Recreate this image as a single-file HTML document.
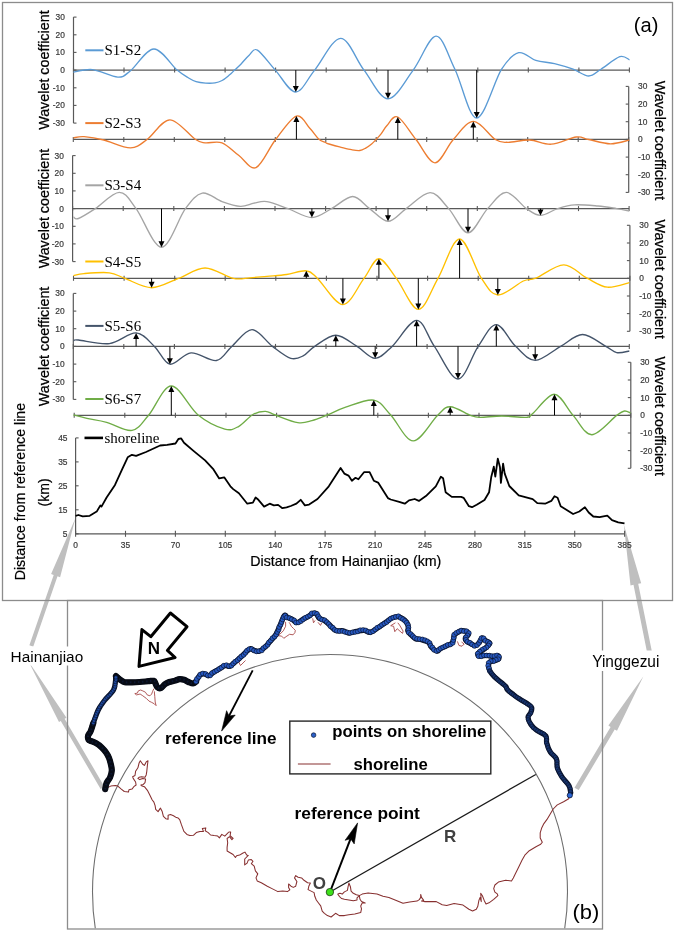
<!DOCTYPE html>
<html><head><meta charset="utf-8"><title>Figure</title>
<style>html,body{margin:0;padding:0;background:#fff;} svg{display:block;}</style>
</head><body>
<svg width="675" height="932" viewBox="0 0 675 932">
<rect x="0" y="0" width="675" height="932" fill="#fff"/>
<path d="M33.2,646.7 L57.5,576.3 L60.1,577.2 L75.5,518 L51.1,574.1 L53.7,575 L29.4,645.3 Z" fill="#BFBFBF"/>
<path d="M104.4,786.7 L64.6,718.7 L66.5,717.7 L28.6,661.5 L59,722 L60.8,721 L100.6,788.9 Z" fill="#BFBFBF"/>
<path d="M651.9,651.5 L638.2,583.8 L641.2,583.2 L623.8,524.5 L630.5,585.4 L633.5,584.8 L647.1,652.5 Z" fill="#BFBFBF"/>
<path d="M578.7,790.1 L614.7,729.4 L617,730.7 L643.3,676.6 L608.4,725.6 L610.6,727 L574.5,787.7 Z" fill="#BFBFBF"/>
<rect x="2.5" y="2.5" width="670" height="598" fill="none" stroke="#8c8c8c" stroke-width="1.3"/>
<rect x="67.5" y="600.5" width="535" height="328.5" fill="none" stroke="#8c8c8c" stroke-width="1.3"/>
<line x1="73.5" y1="17.1" x2="73.5" y2="123.1" stroke="#595959" stroke-width="1.2"/>
<line x1="73.5" y1="123.1" x2="76.5" y2="123.1" stroke="#595959" stroke-width="1.1"/>
<text x="64.8" y="126" font-family="'Liberation Sans', Arial, sans-serif" font-size="8.4" fill="#3a3a3a" stroke="#3a3a3a" stroke-width="0.2" text-anchor="end">-30</text>
<line x1="73.5" y1="105.4" x2="76.5" y2="105.4" stroke="#595959" stroke-width="1.1"/>
<text x="64.8" y="108.3" font-family="'Liberation Sans', Arial, sans-serif" font-size="8.4" fill="#3a3a3a" stroke="#3a3a3a" stroke-width="0.2" text-anchor="end">-20</text>
<line x1="73.5" y1="87.8" x2="76.5" y2="87.8" stroke="#595959" stroke-width="1.1"/>
<text x="64.8" y="90.7" font-family="'Liberation Sans', Arial, sans-serif" font-size="8.4" fill="#3a3a3a" stroke="#3a3a3a" stroke-width="0.2" text-anchor="end">-10</text>
<line x1="73.5" y1="70.1" x2="76.5" y2="70.1" stroke="#595959" stroke-width="1.1"/>
<text x="64.8" y="73" font-family="'Liberation Sans', Arial, sans-serif" font-size="8.4" fill="#3a3a3a" stroke="#3a3a3a" stroke-width="0.2" text-anchor="end">0</text>
<line x1="73.5" y1="52.4" x2="76.5" y2="52.4" stroke="#595959" stroke-width="1.1"/>
<text x="64.8" y="55.3" font-family="'Liberation Sans', Arial, sans-serif" font-size="8.4" fill="#3a3a3a" stroke="#3a3a3a" stroke-width="0.2" text-anchor="end">10</text>
<line x1="73.5" y1="34.8" x2="76.5" y2="34.8" stroke="#595959" stroke-width="1.1"/>
<text x="64.8" y="37.7" font-family="'Liberation Sans', Arial, sans-serif" font-size="8.4" fill="#3a3a3a" stroke="#3a3a3a" stroke-width="0.2" text-anchor="end">20</text>
<line x1="73.5" y1="17.1" x2="76.5" y2="17.1" stroke="#595959" stroke-width="1.1"/>
<text x="64.8" y="20" font-family="'Liberation Sans', Arial, sans-serif" font-size="8.4" fill="#3a3a3a" stroke="#3a3a3a" stroke-width="0.2" text-anchor="end">30</text>
<line x1="73.5" y1="70.1" x2="629.4" y2="70.1" stroke="#595959" stroke-width="1.2"/>
<line x1="73.5" y1="67.6" x2="73.5" y2="72.6" stroke="#595959" stroke-width="1.1"/>
<line x1="124" y1="67.6" x2="124" y2="72.6" stroke="#595959" stroke-width="1.1"/>
<line x1="174.6" y1="67.6" x2="174.6" y2="72.6" stroke="#595959" stroke-width="1.1"/>
<line x1="225.1" y1="67.6" x2="225.1" y2="72.6" stroke="#595959" stroke-width="1.1"/>
<line x1="275.6" y1="67.6" x2="275.6" y2="72.6" stroke="#595959" stroke-width="1.1"/>
<line x1="326.2" y1="67.6" x2="326.2" y2="72.6" stroke="#595959" stroke-width="1.1"/>
<line x1="376.7" y1="67.6" x2="376.7" y2="72.6" stroke="#595959" stroke-width="1.1"/>
<line x1="427.3" y1="67.6" x2="427.3" y2="72.6" stroke="#595959" stroke-width="1.1"/>
<line x1="477.8" y1="67.6" x2="477.8" y2="72.6" stroke="#595959" stroke-width="1.1"/>
<line x1="528.3" y1="67.6" x2="528.3" y2="72.6" stroke="#595959" stroke-width="1.1"/>
<line x1="578.9" y1="67.6" x2="578.9" y2="72.6" stroke="#595959" stroke-width="1.1"/>
<line x1="629.4" y1="67.6" x2="629.4" y2="72.6" stroke="#595959" stroke-width="1.1"/>
<text transform="translate(49.2,70.1) rotate(-90)" font-family="'Liberation Sans', Arial, sans-serif" font-size="15" text-anchor="middle" fill="#000" stroke="#000" stroke-width="0.25" textLength="119.5" lengthAdjust="spacingAndGlyphs">Wavelet coefficient</text>
<line x1="628.7" y1="86.4" x2="628.7" y2="192.4" stroke="#595959" stroke-width="1.2"/>
<line x1="625.7" y1="192.4" x2="628.7" y2="192.4" stroke="#595959" stroke-width="1.1"/>
<text x="638.1" y="195.3" font-family="'Liberation Sans', Arial, sans-serif" font-size="8.4" fill="#3a3a3a" stroke="#3a3a3a" stroke-width="0.2">-30</text>
<line x1="625.7" y1="174.7" x2="628.7" y2="174.7" stroke="#595959" stroke-width="1.1"/>
<text x="638.1" y="177.6" font-family="'Liberation Sans', Arial, sans-serif" font-size="8.4" fill="#3a3a3a" stroke="#3a3a3a" stroke-width="0.2">-20</text>
<line x1="625.7" y1="157.1" x2="628.7" y2="157.1" stroke="#595959" stroke-width="1.1"/>
<text x="638.1" y="160" font-family="'Liberation Sans', Arial, sans-serif" font-size="8.4" fill="#3a3a3a" stroke="#3a3a3a" stroke-width="0.2">-10</text>
<line x1="625.7" y1="139.4" x2="628.7" y2="139.4" stroke="#595959" stroke-width="1.1"/>
<text x="638.1" y="142.3" font-family="'Liberation Sans', Arial, sans-serif" font-size="8.4" fill="#3a3a3a" stroke="#3a3a3a" stroke-width="0.2">0</text>
<line x1="625.7" y1="121.7" x2="628.7" y2="121.7" stroke="#595959" stroke-width="1.1"/>
<text x="638.1" y="124.6" font-family="'Liberation Sans', Arial, sans-serif" font-size="8.4" fill="#3a3a3a" stroke="#3a3a3a" stroke-width="0.2">10</text>
<line x1="625.7" y1="104.1" x2="628.7" y2="104.1" stroke="#595959" stroke-width="1.1"/>
<text x="638.1" y="107" font-family="'Liberation Sans', Arial, sans-serif" font-size="8.4" fill="#3a3a3a" stroke="#3a3a3a" stroke-width="0.2">20</text>
<line x1="625.7" y1="86.4" x2="628.7" y2="86.4" stroke="#595959" stroke-width="1.1"/>
<text x="638.1" y="89.3" font-family="'Liberation Sans', Arial, sans-serif" font-size="8.4" fill="#3a3a3a" stroke="#3a3a3a" stroke-width="0.2">30</text>
<line x1="73.3" y1="139.4" x2="628.7" y2="139.4" stroke="#595959" stroke-width="1.2"/>
<line x1="73.3" y1="136.9" x2="73.3" y2="141.9" stroke="#595959" stroke-width="1.1"/>
<line x1="123.8" y1="136.9" x2="123.8" y2="141.9" stroke="#595959" stroke-width="1.1"/>
<line x1="174.3" y1="136.9" x2="174.3" y2="141.9" stroke="#595959" stroke-width="1.1"/>
<line x1="224.8" y1="136.9" x2="224.8" y2="141.9" stroke="#595959" stroke-width="1.1"/>
<line x1="275.3" y1="136.9" x2="275.3" y2="141.9" stroke="#595959" stroke-width="1.1"/>
<line x1="325.8" y1="136.9" x2="325.8" y2="141.9" stroke="#595959" stroke-width="1.1"/>
<line x1="376.2" y1="136.9" x2="376.2" y2="141.9" stroke="#595959" stroke-width="1.1"/>
<line x1="426.7" y1="136.9" x2="426.7" y2="141.9" stroke="#595959" stroke-width="1.1"/>
<line x1="477.2" y1="136.9" x2="477.2" y2="141.9" stroke="#595959" stroke-width="1.1"/>
<line x1="527.7" y1="136.9" x2="527.7" y2="141.9" stroke="#595959" stroke-width="1.1"/>
<line x1="578.2" y1="136.9" x2="578.2" y2="141.9" stroke="#595959" stroke-width="1.1"/>
<line x1="628.7" y1="136.9" x2="628.7" y2="141.9" stroke="#595959" stroke-width="1.1"/>
<text transform="translate(655,140.4) rotate(90)" font-family="'Liberation Sans', Arial, sans-serif" font-size="15" text-anchor="middle" fill="#000" stroke="#000" stroke-width="0.25" textLength="119.5" lengthAdjust="spacingAndGlyphs">Wavelet coefficient</text>
<line x1="72.6" y1="155.6" x2="72.6" y2="261.6" stroke="#595959" stroke-width="1.2"/>
<line x1="72.6" y1="261.6" x2="75.6" y2="261.6" stroke="#595959" stroke-width="1.1"/>
<text x="63.9" y="264.5" font-family="'Liberation Sans', Arial, sans-serif" font-size="8.4" fill="#3a3a3a" stroke="#3a3a3a" stroke-width="0.2" text-anchor="end">-30</text>
<line x1="72.6" y1="243.9" x2="75.6" y2="243.9" stroke="#595959" stroke-width="1.1"/>
<text x="63.9" y="246.8" font-family="'Liberation Sans', Arial, sans-serif" font-size="8.4" fill="#3a3a3a" stroke="#3a3a3a" stroke-width="0.2" text-anchor="end">-20</text>
<line x1="72.6" y1="226.3" x2="75.6" y2="226.3" stroke="#595959" stroke-width="1.1"/>
<text x="63.9" y="229.2" font-family="'Liberation Sans', Arial, sans-serif" font-size="8.4" fill="#3a3a3a" stroke="#3a3a3a" stroke-width="0.2" text-anchor="end">-10</text>
<line x1="72.6" y1="208.6" x2="75.6" y2="208.6" stroke="#595959" stroke-width="1.1"/>
<text x="63.9" y="211.5" font-family="'Liberation Sans', Arial, sans-serif" font-size="8.4" fill="#3a3a3a" stroke="#3a3a3a" stroke-width="0.2" text-anchor="end">0</text>
<line x1="72.6" y1="190.9" x2="75.6" y2="190.9" stroke="#595959" stroke-width="1.1"/>
<text x="63.9" y="193.8" font-family="'Liberation Sans', Arial, sans-serif" font-size="8.4" fill="#3a3a3a" stroke="#3a3a3a" stroke-width="0.2" text-anchor="end">10</text>
<line x1="72.6" y1="173.3" x2="75.6" y2="173.3" stroke="#595959" stroke-width="1.1"/>
<text x="63.9" y="176.2" font-family="'Liberation Sans', Arial, sans-serif" font-size="8.4" fill="#3a3a3a" stroke="#3a3a3a" stroke-width="0.2" text-anchor="end">20</text>
<line x1="72.6" y1="155.6" x2="75.6" y2="155.6" stroke="#595959" stroke-width="1.1"/>
<text x="63.9" y="158.5" font-family="'Liberation Sans', Arial, sans-serif" font-size="8.4" fill="#3a3a3a" stroke="#3a3a3a" stroke-width="0.2" text-anchor="end">30</text>
<line x1="72.6" y1="208.6" x2="629.1" y2="208.6" stroke="#595959" stroke-width="1.2"/>
<line x1="72.6" y1="206.1" x2="72.6" y2="211.1" stroke="#595959" stroke-width="1.1"/>
<line x1="123.2" y1="206.1" x2="123.2" y2="211.1" stroke="#595959" stroke-width="1.1"/>
<line x1="173.8" y1="206.1" x2="173.8" y2="211.1" stroke="#595959" stroke-width="1.1"/>
<line x1="224.4" y1="206.1" x2="224.4" y2="211.1" stroke="#595959" stroke-width="1.1"/>
<line x1="275" y1="206.1" x2="275" y2="211.1" stroke="#595959" stroke-width="1.1"/>
<line x1="325.6" y1="206.1" x2="325.6" y2="211.1" stroke="#595959" stroke-width="1.1"/>
<line x1="376.1" y1="206.1" x2="376.1" y2="211.1" stroke="#595959" stroke-width="1.1"/>
<line x1="426.7" y1="206.1" x2="426.7" y2="211.1" stroke="#595959" stroke-width="1.1"/>
<line x1="477.3" y1="206.1" x2="477.3" y2="211.1" stroke="#595959" stroke-width="1.1"/>
<line x1="527.9" y1="206.1" x2="527.9" y2="211.1" stroke="#595959" stroke-width="1.1"/>
<line x1="578.5" y1="206.1" x2="578.5" y2="211.1" stroke="#595959" stroke-width="1.1"/>
<line x1="629.1" y1="206.1" x2="629.1" y2="211.1" stroke="#595959" stroke-width="1.1"/>
<text transform="translate(49.2,208.6) rotate(-90)" font-family="'Liberation Sans', Arial, sans-serif" font-size="15" text-anchor="middle" fill="#000" stroke="#000" stroke-width="0.25" textLength="119.5" lengthAdjust="spacingAndGlyphs">Wavelet coefficient</text>
<line x1="629.9" y1="225.3" x2="629.9" y2="331.3" stroke="#595959" stroke-width="1.2"/>
<line x1="626.9" y1="331.3" x2="629.9" y2="331.3" stroke="#595959" stroke-width="1.1"/>
<text x="639.3" y="334.2" font-family="'Liberation Sans', Arial, sans-serif" font-size="8.4" fill="#3a3a3a" stroke="#3a3a3a" stroke-width="0.2">-30</text>
<line x1="626.9" y1="313.6" x2="629.9" y2="313.6" stroke="#595959" stroke-width="1.1"/>
<text x="639.3" y="316.5" font-family="'Liberation Sans', Arial, sans-serif" font-size="8.4" fill="#3a3a3a" stroke="#3a3a3a" stroke-width="0.2">-20</text>
<line x1="626.9" y1="296" x2="629.9" y2="296" stroke="#595959" stroke-width="1.1"/>
<text x="639.3" y="298.9" font-family="'Liberation Sans', Arial, sans-serif" font-size="8.4" fill="#3a3a3a" stroke="#3a3a3a" stroke-width="0.2">-10</text>
<line x1="626.9" y1="278.3" x2="629.9" y2="278.3" stroke="#595959" stroke-width="1.1"/>
<text x="639.3" y="281.2" font-family="'Liberation Sans', Arial, sans-serif" font-size="8.4" fill="#3a3a3a" stroke="#3a3a3a" stroke-width="0.2">0</text>
<line x1="626.9" y1="260.6" x2="629.9" y2="260.6" stroke="#595959" stroke-width="1.1"/>
<text x="639.3" y="263.5" font-family="'Liberation Sans', Arial, sans-serif" font-size="8.4" fill="#3a3a3a" stroke="#3a3a3a" stroke-width="0.2">10</text>
<line x1="626.9" y1="243" x2="629.9" y2="243" stroke="#595959" stroke-width="1.1"/>
<text x="639.3" y="245.9" font-family="'Liberation Sans', Arial, sans-serif" font-size="8.4" fill="#3a3a3a" stroke="#3a3a3a" stroke-width="0.2">20</text>
<line x1="626.9" y1="225.3" x2="629.9" y2="225.3" stroke="#595959" stroke-width="1.1"/>
<text x="639.3" y="228.2" font-family="'Liberation Sans', Arial, sans-serif" font-size="8.4" fill="#3a3a3a" stroke="#3a3a3a" stroke-width="0.2">30</text>
<line x1="73.5" y1="278.3" x2="629.9" y2="278.3" stroke="#595959" stroke-width="1.2"/>
<line x1="73.5" y1="275.8" x2="73.5" y2="280.8" stroke="#595959" stroke-width="1.1"/>
<line x1="124.1" y1="275.8" x2="124.1" y2="280.8" stroke="#595959" stroke-width="1.1"/>
<line x1="174.7" y1="275.8" x2="174.7" y2="280.8" stroke="#595959" stroke-width="1.1"/>
<line x1="225.2" y1="275.8" x2="225.2" y2="280.8" stroke="#595959" stroke-width="1.1"/>
<line x1="275.8" y1="275.8" x2="275.8" y2="280.8" stroke="#595959" stroke-width="1.1"/>
<line x1="326.4" y1="275.8" x2="326.4" y2="280.8" stroke="#595959" stroke-width="1.1"/>
<line x1="377" y1="275.8" x2="377" y2="280.8" stroke="#595959" stroke-width="1.1"/>
<line x1="427.6" y1="275.8" x2="427.6" y2="280.8" stroke="#595959" stroke-width="1.1"/>
<line x1="478.2" y1="275.8" x2="478.2" y2="280.8" stroke="#595959" stroke-width="1.1"/>
<line x1="528.7" y1="275.8" x2="528.7" y2="280.8" stroke="#595959" stroke-width="1.1"/>
<line x1="579.3" y1="275.8" x2="579.3" y2="280.8" stroke="#595959" stroke-width="1.1"/>
<line x1="629.9" y1="275.8" x2="629.9" y2="280.8" stroke="#595959" stroke-width="1.1"/>
<text transform="translate(655,279.3) rotate(90)" font-family="'Liberation Sans', Arial, sans-serif" font-size="15" text-anchor="middle" fill="#000" stroke="#000" stroke-width="0.25" textLength="119.5" lengthAdjust="spacingAndGlyphs">Wavelet coefficient</text>
<line x1="73.3" y1="293.4" x2="73.3" y2="399.4" stroke="#595959" stroke-width="1.2"/>
<line x1="73.3" y1="399.4" x2="76.3" y2="399.4" stroke="#595959" stroke-width="1.1"/>
<text x="64.6" y="402.3" font-family="'Liberation Sans', Arial, sans-serif" font-size="8.4" fill="#3a3a3a" stroke="#3a3a3a" stroke-width="0.2" text-anchor="end">-30</text>
<line x1="73.3" y1="381.7" x2="76.3" y2="381.7" stroke="#595959" stroke-width="1.1"/>
<text x="64.6" y="384.6" font-family="'Liberation Sans', Arial, sans-serif" font-size="8.4" fill="#3a3a3a" stroke="#3a3a3a" stroke-width="0.2" text-anchor="end">-20</text>
<line x1="73.3" y1="364.1" x2="76.3" y2="364.1" stroke="#595959" stroke-width="1.1"/>
<text x="64.6" y="367" font-family="'Liberation Sans', Arial, sans-serif" font-size="8.4" fill="#3a3a3a" stroke="#3a3a3a" stroke-width="0.2" text-anchor="end">-10</text>
<line x1="73.3" y1="346.4" x2="76.3" y2="346.4" stroke="#595959" stroke-width="1.1"/>
<text x="64.6" y="349.3" font-family="'Liberation Sans', Arial, sans-serif" font-size="8.4" fill="#3a3a3a" stroke="#3a3a3a" stroke-width="0.2" text-anchor="end">0</text>
<line x1="73.3" y1="328.7" x2="76.3" y2="328.7" stroke="#595959" stroke-width="1.1"/>
<text x="64.6" y="331.6" font-family="'Liberation Sans', Arial, sans-serif" font-size="8.4" fill="#3a3a3a" stroke="#3a3a3a" stroke-width="0.2" text-anchor="end">10</text>
<line x1="73.3" y1="311.1" x2="76.3" y2="311.1" stroke="#595959" stroke-width="1.1"/>
<text x="64.6" y="314" font-family="'Liberation Sans', Arial, sans-serif" font-size="8.4" fill="#3a3a3a" stroke="#3a3a3a" stroke-width="0.2" text-anchor="end">20</text>
<line x1="73.3" y1="293.4" x2="76.3" y2="293.4" stroke="#595959" stroke-width="1.1"/>
<text x="64.6" y="296.3" font-family="'Liberation Sans', Arial, sans-serif" font-size="8.4" fill="#3a3a3a" stroke="#3a3a3a" stroke-width="0.2" text-anchor="end">30</text>
<line x1="73.3" y1="346.4" x2="629.3" y2="346.4" stroke="#595959" stroke-width="1.2"/>
<line x1="73.3" y1="343.9" x2="73.3" y2="348.9" stroke="#595959" stroke-width="1.1"/>
<line x1="123.8" y1="343.9" x2="123.8" y2="348.9" stroke="#595959" stroke-width="1.1"/>
<line x1="174.4" y1="343.9" x2="174.4" y2="348.9" stroke="#595959" stroke-width="1.1"/>
<line x1="224.9" y1="343.9" x2="224.9" y2="348.9" stroke="#595959" stroke-width="1.1"/>
<line x1="275.5" y1="343.9" x2="275.5" y2="348.9" stroke="#595959" stroke-width="1.1"/>
<line x1="326" y1="343.9" x2="326" y2="348.9" stroke="#595959" stroke-width="1.1"/>
<line x1="376.6" y1="343.9" x2="376.6" y2="348.9" stroke="#595959" stroke-width="1.1"/>
<line x1="427.1" y1="343.9" x2="427.1" y2="348.9" stroke="#595959" stroke-width="1.1"/>
<line x1="477.7" y1="343.9" x2="477.7" y2="348.9" stroke="#595959" stroke-width="1.1"/>
<line x1="528.2" y1="343.9" x2="528.2" y2="348.9" stroke="#595959" stroke-width="1.1"/>
<line x1="578.8" y1="343.9" x2="578.8" y2="348.9" stroke="#595959" stroke-width="1.1"/>
<line x1="629.3" y1="343.9" x2="629.3" y2="348.9" stroke="#595959" stroke-width="1.1"/>
<text transform="translate(49.2,346.4) rotate(-90)" font-family="'Liberation Sans', Arial, sans-serif" font-size="15" text-anchor="middle" fill="#000" stroke="#000" stroke-width="0.25" textLength="119.5" lengthAdjust="spacingAndGlyphs">Wavelet coefficient</text>
<line x1="630.8" y1="362.3" x2="630.8" y2="468.3" stroke="#595959" stroke-width="1.2"/>
<line x1="627.8" y1="468.3" x2="630.8" y2="468.3" stroke="#595959" stroke-width="1.1"/>
<text x="640.2" y="471.2" font-family="'Liberation Sans', Arial, sans-serif" font-size="8.4" fill="#3a3a3a" stroke="#3a3a3a" stroke-width="0.2">-30</text>
<line x1="627.8" y1="450.6" x2="630.8" y2="450.6" stroke="#595959" stroke-width="1.1"/>
<text x="640.2" y="453.5" font-family="'Liberation Sans', Arial, sans-serif" font-size="8.4" fill="#3a3a3a" stroke="#3a3a3a" stroke-width="0.2">-20</text>
<line x1="627.8" y1="433" x2="630.8" y2="433" stroke="#595959" stroke-width="1.1"/>
<text x="640.2" y="435.9" font-family="'Liberation Sans', Arial, sans-serif" font-size="8.4" fill="#3a3a3a" stroke="#3a3a3a" stroke-width="0.2">-10</text>
<line x1="627.8" y1="415.3" x2="630.8" y2="415.3" stroke="#595959" stroke-width="1.1"/>
<text x="640.2" y="418.2" font-family="'Liberation Sans', Arial, sans-serif" font-size="8.4" fill="#3a3a3a" stroke="#3a3a3a" stroke-width="0.2">0</text>
<line x1="627.8" y1="397.6" x2="630.8" y2="397.6" stroke="#595959" stroke-width="1.1"/>
<text x="640.2" y="400.5" font-family="'Liberation Sans', Arial, sans-serif" font-size="8.4" fill="#3a3a3a" stroke="#3a3a3a" stroke-width="0.2">10</text>
<line x1="627.8" y1="380" x2="630.8" y2="380" stroke="#595959" stroke-width="1.1"/>
<text x="640.2" y="382.9" font-family="'Liberation Sans', Arial, sans-serif" font-size="8.4" fill="#3a3a3a" stroke="#3a3a3a" stroke-width="0.2">20</text>
<line x1="627.8" y1="362.3" x2="630.8" y2="362.3" stroke="#595959" stroke-width="1.1"/>
<text x="640.2" y="365.2" font-family="'Liberation Sans', Arial, sans-serif" font-size="8.4" fill="#3a3a3a" stroke="#3a3a3a" stroke-width="0.2">30</text>
<line x1="74.2" y1="415.3" x2="630.8" y2="415.3" stroke="#595959" stroke-width="1.2"/>
<line x1="74.2" y1="412.8" x2="74.2" y2="417.8" stroke="#595959" stroke-width="1.1"/>
<line x1="124.8" y1="412.8" x2="124.8" y2="417.8" stroke="#595959" stroke-width="1.1"/>
<line x1="175.4" y1="412.8" x2="175.4" y2="417.8" stroke="#595959" stroke-width="1.1"/>
<line x1="226" y1="412.8" x2="226" y2="417.8" stroke="#595959" stroke-width="1.1"/>
<line x1="276.6" y1="412.8" x2="276.6" y2="417.8" stroke="#595959" stroke-width="1.1"/>
<line x1="327.2" y1="412.8" x2="327.2" y2="417.8" stroke="#595959" stroke-width="1.1"/>
<line x1="377.8" y1="412.8" x2="377.8" y2="417.8" stroke="#595959" stroke-width="1.1"/>
<line x1="428.4" y1="412.8" x2="428.4" y2="417.8" stroke="#595959" stroke-width="1.1"/>
<line x1="479" y1="412.8" x2="479" y2="417.8" stroke="#595959" stroke-width="1.1"/>
<line x1="529.6" y1="412.8" x2="529.6" y2="417.8" stroke="#595959" stroke-width="1.1"/>
<line x1="580.2" y1="412.8" x2="580.2" y2="417.8" stroke="#595959" stroke-width="1.1"/>
<line x1="630.8" y1="412.8" x2="630.8" y2="417.8" stroke="#595959" stroke-width="1.1"/>
<text transform="translate(655,416.3) rotate(90)" font-family="'Liberation Sans', Arial, sans-serif" font-size="15" text-anchor="middle" fill="#000" stroke="#000" stroke-width="0.25" textLength="119.5" lengthAdjust="spacingAndGlyphs">Wavelet coefficient</text>
<path d="M73.4,72.1 C76.6,71.7 85.1,68.8 92.5,69.6 C99.9,70.4 111.5,76.9 117.8,77.1 C124.1,77.3 124.5,75.4 130.5,70.7 C136.5,66 146.1,49.1 153.9,49 C161.7,48.9 171.4,65.3 177.1,70.1 C182.8,74.8 184.6,75.6 187.8,77.5 C191,79.4 193.1,80.8 196.1,81.7 C199.1,82.6 202.4,82.9 205.6,83.1 C208.8,83.3 212.2,83.3 215,82.9 C217.8,82.5 219.7,81.8 222.1,80.5 C224.5,79.2 227.2,76.8 229.3,75.1 C231.4,73.4 232.6,72 234.6,70.1 C236.6,68.2 238.6,66.4 241.1,63.9 C243.6,61.4 246.7,57.3 249.4,55 C252.1,52.7 253.1,47.6 257.4,50.1 C261.7,52.6 268.9,63.1 275.3,70.1 C281.7,77.1 289.1,92 295.7,92 C302.3,92 307.2,79 314.7,70.1 C322.2,61.1 332.4,38.3 340.6,38.3 C348.8,38.3 356.1,60 364,70.1 C371.9,80.2 379.8,98.8 388,98.8 C396.2,98.8 405.2,80.5 413.2,70.1 C421.2,59.7 429.1,36.4 436,36.2 C442.9,36.1 448.1,55.6 454.9,69.2 C461.7,82.8 468.9,118 476.7,118 C484.5,118 494.6,80.1 501.6,69.2 C508.6,58.3 513,54.2 518.7,52.7 C524.4,51.2 529.8,58.6 535.8,60.4 C541.8,62.2 548.3,62.1 554.5,63.6 C560.7,65.1 567.4,67.1 573.1,69.2 C578.8,71.3 584.1,76 588.7,76 C593.4,76 595.8,72.4 601,69.2 C606.2,66 615,58.3 619.8,56.7 C624.5,55.1 627.9,59.3 629.5,59.8" fill="none" stroke="#5B9BD5" stroke-width="1.35" stroke-linejoin="round"/>
<line x1="85.3" y1="50.3" x2="103.5" y2="50.3" stroke="#5B9BD5" stroke-width="2"/>
<text x="104.5" y="55.4" font-family="'Liberation Serif', 'Times New Roman', serif" font-size="15" fill="#000">S1-S2</text>
<line x1="295.8" y1="70.1" x2="295.8" y2="87" stroke="#000" stroke-width="1"/>
<path d="M292.8,86 L298.8,86 L295.8,92 Z" fill="#000"/>
<line x1="388" y1="70.1" x2="388" y2="93.8" stroke="#000" stroke-width="1"/>
<path d="M385,92.8 L391,92.8 L388,98.8 Z" fill="#000"/>
<line x1="476.7" y1="70.1" x2="476.7" y2="113" stroke="#000" stroke-width="1"/>
<path d="M473.7,112 L479.7,112 L476.7,118 Z" fill="#000"/>
<path d="M73.5,137.8 C75.3,137.6 79,136.3 84.1,136.7 C89.1,137.1 96.1,138.1 103.8,140 C111.5,141.9 123.2,148 130.5,147.9 C137.8,147.8 140.8,143.9 147.4,139.2 C154,134.5 161.9,119.8 169.9,119.8 C177.9,119.8 189.3,135.4 195.2,139.2 C201.1,143 200.6,142.2 205.1,142.8 C209.6,143.4 216.4,140.7 222,142.8 C227.6,144.9 233.2,151.4 238.9,155.5 C244.6,159.6 249.9,170.2 256,167.6 C262.1,165 268.6,148.6 275.3,140 C282,131.4 290.6,118 296.4,116.1 C302.2,114.2 306.2,124.8 310,128.6 C313.8,132.4 316.3,136.9 318.9,139.2 C321.5,141.5 323.7,141.7 325.4,142.5 C327.1,143.3 326.6,143.3 329,144 C331.4,144.7 335.9,146 339.6,146.9 C343.4,147.8 348.1,149.1 351.5,149.7 C354.9,150.3 357.4,150.8 359.8,150.5 C362.2,150.2 363.7,149.2 365.7,148.1 C367.7,147 369.9,145.4 371.6,144 C373.3,142.6 374.2,141.5 375.8,139.8 C377.4,138.1 379.2,136.3 381.1,133.9 C383,131.5 384.2,128.4 387,125.6 C389.8,122.8 393,114.7 397.8,117 C402.6,119.3 409.8,131.9 416,139.5 C422.2,147.1 428.8,162.8 435,162.8 C441.2,162.8 446.9,146.4 453.3,139.5 C459.7,132.6 466.6,121.4 473.6,121.4 C480.6,121.4 489.6,136 495.3,139.5 C501,143 502.1,142.2 507.8,142.3 C513.5,142.4 522.4,139.7 529.6,140 C536.9,140.3 543.5,144.7 551.3,144.2 C559.1,143.7 570,137.8 576.2,137 C582.4,136.2 583,138.4 588.7,139.5 C594.4,140.6 603.7,143.7 610.5,143.8 C617.3,143.9 626.2,140.7 629.3,140.1" fill="none" stroke="#ED7D31" stroke-width="1.35" stroke-linejoin="round"/>
<line x1="85.3" y1="123.1" x2="103.5" y2="123.1" stroke="#ED7D31" stroke-width="2"/>
<text x="104.5" y="128.2" font-family="'Liberation Serif', 'Times New Roman', serif" font-size="15" fill="#000">S2-S3</text>
<line x1="296.4" y1="139.4" x2="296.4" y2="121.1" stroke="#000" stroke-width="1"/>
<path d="M293.4,122.1 L299.4,122.1 L296.4,116.1 Z" fill="#000"/>
<line x1="397.8" y1="139.4" x2="397.8" y2="122" stroke="#000" stroke-width="1"/>
<path d="M394.8,123 L400.8,123 L397.8,117 Z" fill="#000"/>
<line x1="473.3" y1="139.4" x2="473.3" y2="126.4" stroke="#000" stroke-width="1"/>
<path d="M470.3,127.4 L476.3,127.4 L473.3,121.4 Z" fill="#000"/>
<path d="M73.5,217 C74.3,217.2 74.8,219.9 78.4,218.5 C82,217.1 88.5,213 95.3,208.6 C102.1,204.2 112.5,192.3 119.3,192.3 C126.1,192.3 129.1,199.4 136.1,208.6 C143.1,217.8 153.3,247.2 161.5,247.2 C169.7,247.2 178.6,217.6 185.4,208.6 C192.2,199.6 196.2,194.3 202.3,193.1 C208.4,191.9 215.7,199.4 222,201.6 C228.3,203.8 235,206.1 240.3,206.4 C245.6,206.7 249.6,204 254,203.2 C258.4,202.4 261.2,200.7 266.9,201.6 C272.6,202.5 280.5,205.9 288,208.6 C295.5,211.3 304.6,217.6 311.9,217.6 C319.2,217.6 324.8,212.1 331.6,208.6 C338.4,205.1 346.4,196.5 352.7,196.5 C359,196.5 363.7,204.5 369.6,208.6 C375.5,212.7 381.9,221.3 388,221.3 C394.1,221.3 399.2,213.4 406.2,208.6 C413.2,203.8 423,192.6 430.1,192.6 C437.2,192.6 442.4,201.9 448.7,208.6 C455,215.3 461.5,232.8 468,232.8 C474.5,232.8 481.2,215.3 487.6,208.6 C494,201.9 499.7,192.4 506.2,192.4 C512.7,192.4 520.8,204.8 526.5,208.6 C532.2,212.4 535.3,215.4 540.5,215.4 C545.7,215.4 551.9,210.4 557.6,208.6 C563.3,206.8 568,205.2 574.7,204.8 C581.4,204.4 591,205.4 598,206 C605,206.6 611.5,207.8 616.7,208.6 C621.9,209.4 627.2,210.6 629.3,211" fill="none" stroke="#A5A5A5" stroke-width="1.35" stroke-linejoin="round"/>
<line x1="85.3" y1="185.3" x2="103.5" y2="185.3" stroke="#A5A5A5" stroke-width="2"/>
<text x="104.5" y="190.4" font-family="'Liberation Serif', 'Times New Roman', serif" font-size="15" fill="#000">S3-S4</text>
<line x1="161.5" y1="208.6" x2="161.5" y2="242.2" stroke="#000" stroke-width="1"/>
<path d="M158.5,241.2 L164.5,241.2 L161.5,247.2 Z" fill="#000"/>
<line x1="311.9" y1="208.6" x2="311.9" y2="212.6" stroke="#000" stroke-width="1"/>
<path d="M308.9,211.6 L314.9,211.6 L311.9,217.6 Z" fill="#000"/>
<line x1="388" y1="208.6" x2="388" y2="216.3" stroke="#000" stroke-width="1"/>
<path d="M385,215.3 L391,215.3 L388,221.3 Z" fill="#000"/>
<line x1="468" y1="208.6" x2="468" y2="227.8" stroke="#000" stroke-width="1"/>
<path d="M465,226.8 L471,226.8 L468,232.8 Z" fill="#000"/>
<line x1="540.5" y1="208.6" x2="540.5" y2="210.4" stroke="#000" stroke-width="1"/>
<path d="M537.5,209.4 L543.5,209.4 L540.5,215.4 Z" fill="#000"/>
<path d="M73.5,275.6 C75.3,275.3 78.1,274.1 84.1,273.6 C90.1,273.1 102.6,272 109.4,272.8 C116.2,273.6 117.9,275.9 124.9,278.4 C131.9,280.9 142.7,287.7 151.6,287.7 C160.5,287.7 169.5,281.7 178.4,278.4 C187.3,275.1 196,268 205.1,268 C214.2,268 225.7,276.8 233.2,278.4 C240.7,280 244.4,278.1 250,277.8 C255.6,277.5 260.8,276.9 266.9,276.4 C273,275.8 280,275.4 286.6,274.5 C293.2,273.6 301.2,270.2 306.3,270.8 C311.4,271.4 311.4,272.8 317.5,278.4 C323.6,284 335.1,304.6 342.9,304.6 C350.6,304.6 358,286 364,278.4 C370,270.8 373.5,258.7 378.9,258.7 C384.3,258.7 389.8,269.9 396.4,278.4 C403,286.8 411.4,309.4 418.3,309.4 C425.2,309.4 431.1,290 438,278.3 C444.9,266.6 452.4,239 459.6,239 C466.8,239 474.9,268.9 481.3,278.2 C487.7,287.5 490.8,294.5 497.8,295 C504.8,295.5 517,283.8 523.3,281 C529.6,278.2 529,280.9 535.8,278.2 C542.5,275.5 555.2,264.8 563.8,264.8 C572.3,264.8 579.9,274.5 587.1,278.2 C594.4,281.9 600.3,286.5 607.3,287.2 C614.3,287.9 625.6,283.4 629.3,282.6" fill="none" stroke="#FFC000" stroke-width="1.35" stroke-linejoin="round"/>
<line x1="85.3" y1="261.5" x2="103.5" y2="261.5" stroke="#FFC000" stroke-width="2"/>
<text x="104.5" y="266.6" font-family="'Liberation Serif', 'Times New Roman', serif" font-size="15" fill="#000">S4-S5</text>
<line x1="151.6" y1="278.3" x2="151.6" y2="282.7" stroke="#000" stroke-width="1"/>
<path d="M148.6,281.7 L154.6,281.7 L151.6,287.7 Z" fill="#000"/>
<line x1="306.3" y1="278.3" x2="306.3" y2="275.8" stroke="#000" stroke-width="1"/>
<path d="M303.3,276.8 L309.3,276.8 L306.3,270.8 Z" fill="#000"/>
<line x1="342.9" y1="278.3" x2="342.9" y2="299.6" stroke="#000" stroke-width="1"/>
<path d="M339.9,298.6 L345.9,298.6 L342.9,304.6 Z" fill="#000"/>
<line x1="378.9" y1="278.3" x2="378.9" y2="263.7" stroke="#000" stroke-width="1"/>
<path d="M375.9,264.7 L381.9,264.7 L378.9,258.7 Z" fill="#000"/>
<line x1="418.3" y1="278.3" x2="418.3" y2="304.4" stroke="#000" stroke-width="1"/>
<path d="M415.3,303.4 L421.3,303.4 L418.3,309.4 Z" fill="#000"/>
<line x1="459.6" y1="278.3" x2="459.6" y2="244" stroke="#000" stroke-width="1"/>
<path d="M456.6,245 L462.6,245 L459.6,239 Z" fill="#000"/>
<line x1="497.8" y1="278.3" x2="497.8" y2="290" stroke="#000" stroke-width="1"/>
<path d="M494.8,289 L500.8,289 L497.8,295 Z" fill="#000"/>
<path d="M73.5,340.8 C74.3,340.7 72.4,339.5 78.4,340 C84.4,340.5 99.8,344.8 109.4,343.6 C119,342.4 128.6,332.4 136.1,332.9 C143.6,333.4 148.8,341.2 154.4,346.4 C160,351.6 163.8,363.1 169.9,364.2 C176,365.3 183.2,353.5 191,352.9 C198.8,352.3 209.6,361.6 216.4,360.5 C223.2,359.4 225.9,351.5 231.8,346.4 C237.7,341.2 245.2,329.6 252,329.6 C258.8,329.6 266,341.6 272.5,346.4 C279,351.2 285.6,356.8 290.8,358.3 C296,359.9 299.5,357.7 303.5,355.7 C307.5,353.7 309.3,349.8 314.7,346.4 C320.1,343 328.8,335.2 335.8,335.2 C342.9,335.2 350.4,342.5 357,346.4 C363.6,350.2 369.3,358.3 375.2,358.3 C381.1,358.3 385.2,352.7 392.1,346.4 C399,340.1 409.6,320.3 416.6,320.3 C423.7,320.3 427.5,336.6 434.4,346.4 C441.3,356.2 450.7,379 458,379 C465.3,379 471.8,355.4 478.2,346.3 C484.6,337.2 490.1,324.6 496.3,324.6 C502.5,324.6 509.1,340.4 515.6,346.3 C522.1,352.2 527.7,360.3 535.2,360.3 C542.7,360.3 552.8,350.6 560.7,346.3 C568.6,342 575,334.5 582.5,334.5 C590,334.5 600.1,343.3 605.8,346.3 C611.5,349.3 612.8,351.8 616.7,352.6 C620.6,353.4 627.2,351.3 629.3,351" fill="none" stroke="#44546A" stroke-width="1.35" stroke-linejoin="round"/>
<line x1="85.3" y1="325.9" x2="103.5" y2="325.9" stroke="#44546A" stroke-width="2"/>
<text x="104.5" y="331" font-family="'Liberation Serif', 'Times New Roman', serif" font-size="15" fill="#000">S5-S6</text>
<line x1="136.1" y1="346.4" x2="136.1" y2="337.9" stroke="#000" stroke-width="1"/>
<path d="M133.1,338.9 L139.1,338.9 L136.1,332.9 Z" fill="#000"/>
<line x1="169.9" y1="346.4" x2="169.9" y2="359.2" stroke="#000" stroke-width="1"/>
<path d="M166.9,358.2 L172.9,358.2 L169.9,364.2 Z" fill="#000"/>
<line x1="335.8" y1="346.4" x2="335.8" y2="340.2" stroke="#000" stroke-width="1"/>
<path d="M332.8,341.2 L338.8,341.2 L335.8,335.2 Z" fill="#000"/>
<line x1="375.2" y1="346.4" x2="375.2" y2="353.3" stroke="#000" stroke-width="1"/>
<path d="M372.2,352.3 L378.2,352.3 L375.2,358.3 Z" fill="#000"/>
<line x1="416.6" y1="346.4" x2="416.6" y2="325.3" stroke="#000" stroke-width="1"/>
<path d="M413.6,326.3 L419.6,326.3 L416.6,320.3 Z" fill="#000"/>
<line x1="458" y1="346.4" x2="458" y2="374" stroke="#000" stroke-width="1"/>
<path d="M455,373 L461,373 L458,379 Z" fill="#000"/>
<line x1="496.3" y1="346.4" x2="496.3" y2="329.6" stroke="#000" stroke-width="1"/>
<path d="M493.3,330.6 L499.3,330.6 L496.3,324.6 Z" fill="#000"/>
<line x1="535.2" y1="346.4" x2="535.2" y2="355.3" stroke="#000" stroke-width="1"/>
<path d="M532.2,354.3 L538.2,354.3 L535.2,360.3 Z" fill="#000"/>
<path d="M73.5,415 C75.7,415.6 81.4,417.2 86.9,418.4 C92.4,419.6 99.1,420.3 106.6,422.3 C114.1,424.3 125,431.6 132,430.4 C139,429.2 142.2,422.4 148.8,415 C155.4,407.6 163.1,386 171.3,386 C179.5,386 189.2,407.8 198.1,415 C207,422.2 218,427.2 224.8,429.1 C231.6,431 234.2,428.7 238.9,426.3 C243.6,423.9 248.5,417 252.9,414.5 C257.3,412 261.8,411.3 265.5,411.4 C269.2,411.5 269.9,413.1 275.3,415 C280.7,416.9 291.7,421.7 297.8,422.6 C303.9,423.6 307,422 311.9,420.7 C316.8,419.4 321.8,417.2 327.4,415 C333,412.8 338,409.7 345.7,407.2 C353.4,404.7 366.3,398.8 373.8,400.1 C381.3,401.4 384.1,408.2 390.7,415 C397.3,421.8 405.4,440.8 413.2,440.9 C421,441 431.3,421.1 437.5,415.4 C443.7,409.7 444.7,406.7 450.2,406.7 C455.7,406.7 465.5,413.6 470.4,415.4 C475.3,417.2 474.6,417.2 479.8,417.3 C485,417.4 493.8,416 501.6,416 C509.4,416 521.3,417.7 526.5,417.3 C531.7,416.9 528,417.4 532.7,413.6 C537.4,409.8 547.8,394 554.5,394.3 C561.2,394.6 566.9,408.7 573.1,415.4 C579.3,422.1 584.5,434.7 591.8,434.7 C599.1,434.7 611.2,419.3 616.7,415.4 C622.2,411.4 622.2,411.4 624.5,411 C626.8,410.6 629.5,412.7 630.5,413" fill="none" stroke="#70AD47" stroke-width="1.35" stroke-linejoin="round"/>
<line x1="85.3" y1="399" x2="103.5" y2="399" stroke="#70AD47" stroke-width="2"/>
<text x="104.5" y="404.1" font-family="'Liberation Serif', 'Times New Roman', serif" font-size="15" fill="#000">S6-S7</text>
<line x1="171.3" y1="415.3" x2="171.3" y2="391" stroke="#000" stroke-width="1"/>
<path d="M168.3,392 L174.3,392 L171.3,386 Z" fill="#000"/>
<line x1="373.8" y1="415.3" x2="373.8" y2="405.1" stroke="#000" stroke-width="1"/>
<path d="M370.8,406.1 L376.8,406.1 L373.8,400.1 Z" fill="#000"/>
<line x1="450.2" y1="415.3" x2="450.2" y2="411.7" stroke="#000" stroke-width="1"/>
<path d="M447.2,412.7 L453.2,412.7 L450.2,406.7 Z" fill="#000"/>
<line x1="554.5" y1="415.3" x2="554.5" y2="399.3" stroke="#000" stroke-width="1"/>
<path d="M551.5,400.3 L557.5,400.3 L554.5,394.3 Z" fill="#000"/>
<line x1="75.6" y1="437.9" x2="75.6" y2="533.8" stroke="#595959" stroke-width="1.2"/>
<line x1="75.6" y1="533.8" x2="624.6" y2="533.8" stroke="#595959" stroke-width="1.2"/>
<line x1="75.6" y1="533.8" x2="78.6" y2="533.8" stroke="#595959" stroke-width="1.1"/>
<text x="67.5" y="536.8" font-family="'Liberation Sans', Arial, sans-serif" font-size="8.4" fill="#3a3a3a" stroke="#3a3a3a" stroke-width="0.2" text-anchor="end">5</text>
<line x1="75.6" y1="509.8" x2="78.6" y2="509.8" stroke="#595959" stroke-width="1.1"/>
<text x="67.5" y="512.8" font-family="'Liberation Sans', Arial, sans-serif" font-size="8.4" fill="#3a3a3a" stroke="#3a3a3a" stroke-width="0.2" text-anchor="end">15</text>
<line x1="75.6" y1="485.8" x2="78.6" y2="485.8" stroke="#595959" stroke-width="1.1"/>
<text x="67.5" y="488.8" font-family="'Liberation Sans', Arial, sans-serif" font-size="8.4" fill="#3a3a3a" stroke="#3a3a3a" stroke-width="0.2" text-anchor="end">25</text>
<line x1="75.6" y1="461.9" x2="78.6" y2="461.9" stroke="#595959" stroke-width="1.1"/>
<text x="67.5" y="464.9" font-family="'Liberation Sans', Arial, sans-serif" font-size="8.4" fill="#3a3a3a" stroke="#3a3a3a" stroke-width="0.2" text-anchor="end">35</text>
<line x1="75.6" y1="437.9" x2="78.6" y2="437.9" stroke="#595959" stroke-width="1.1"/>
<text x="67.5" y="440.9" font-family="'Liberation Sans', Arial, sans-serif" font-size="8.4" fill="#3a3a3a" stroke="#3a3a3a" stroke-width="0.2" text-anchor="end">45</text>
<line x1="75.6" y1="530.8" x2="75.6" y2="536.8" stroke="#595959" stroke-width="1.1"/>
<text x="75.6" y="548.2" font-family="'Liberation Sans', Arial, sans-serif" font-size="8.4" fill="#3a3a3a" stroke="#3a3a3a" stroke-width="0.2" text-anchor="middle">0</text>
<line x1="125.5" y1="530.8" x2="125.5" y2="536.8" stroke="#595959" stroke-width="1.1"/>
<text x="125.5" y="548.2" font-family="'Liberation Sans', Arial, sans-serif" font-size="8.4" fill="#3a3a3a" stroke="#3a3a3a" stroke-width="0.2" text-anchor="middle">35</text>
<line x1="175.4" y1="530.8" x2="175.4" y2="536.8" stroke="#595959" stroke-width="1.1"/>
<text x="175.4" y="548.2" font-family="'Liberation Sans', Arial, sans-serif" font-size="8.4" fill="#3a3a3a" stroke="#3a3a3a" stroke-width="0.2" text-anchor="middle">70</text>
<line x1="225.3" y1="530.8" x2="225.3" y2="536.8" stroke="#595959" stroke-width="1.1"/>
<text x="225.3" y="548.2" font-family="'Liberation Sans', Arial, sans-serif" font-size="8.4" fill="#3a3a3a" stroke="#3a3a3a" stroke-width="0.2" text-anchor="middle">105</text>
<line x1="275.2" y1="530.8" x2="275.2" y2="536.8" stroke="#595959" stroke-width="1.1"/>
<text x="275.2" y="548.2" font-family="'Liberation Sans', Arial, sans-serif" font-size="8.4" fill="#3a3a3a" stroke="#3a3a3a" stroke-width="0.2" text-anchor="middle">140</text>
<line x1="325.1" y1="530.8" x2="325.1" y2="536.8" stroke="#595959" stroke-width="1.1"/>
<text x="325.1" y="548.2" font-family="'Liberation Sans', Arial, sans-serif" font-size="8.4" fill="#3a3a3a" stroke="#3a3a3a" stroke-width="0.2" text-anchor="middle">175</text>
<line x1="375.1" y1="530.8" x2="375.1" y2="536.8" stroke="#595959" stroke-width="1.1"/>
<text x="375.1" y="548.2" font-family="'Liberation Sans', Arial, sans-serif" font-size="8.4" fill="#3a3a3a" stroke="#3a3a3a" stroke-width="0.2" text-anchor="middle">210</text>
<line x1="425" y1="530.8" x2="425" y2="536.8" stroke="#595959" stroke-width="1.1"/>
<text x="425" y="548.2" font-family="'Liberation Sans', Arial, sans-serif" font-size="8.4" fill="#3a3a3a" stroke="#3a3a3a" stroke-width="0.2" text-anchor="middle">245</text>
<line x1="474.9" y1="530.8" x2="474.9" y2="536.8" stroke="#595959" stroke-width="1.1"/>
<text x="474.9" y="548.2" font-family="'Liberation Sans', Arial, sans-serif" font-size="8.4" fill="#3a3a3a" stroke="#3a3a3a" stroke-width="0.2" text-anchor="middle">280</text>
<line x1="524.8" y1="530.8" x2="524.8" y2="536.8" stroke="#595959" stroke-width="1.1"/>
<text x="524.8" y="548.2" font-family="'Liberation Sans', Arial, sans-serif" font-size="8.4" fill="#3a3a3a" stroke="#3a3a3a" stroke-width="0.2" text-anchor="middle">315</text>
<line x1="574.7" y1="530.8" x2="574.7" y2="536.8" stroke="#595959" stroke-width="1.1"/>
<text x="574.7" y="548.2" font-family="'Liberation Sans', Arial, sans-serif" font-size="8.4" fill="#3a3a3a" stroke="#3a3a3a" stroke-width="0.2" text-anchor="middle">350</text>
<line x1="624.6" y1="530.8" x2="624.6" y2="536.8" stroke="#595959" stroke-width="1.1"/>
<text x="624.6" y="548.2" font-family="'Liberation Sans', Arial, sans-serif" font-size="8.4" fill="#3a3a3a" stroke="#3a3a3a" stroke-width="0.2" text-anchor="middle">385</text>
<path d="M75.6,515.8 L78.4,515 L82.7,516.4 L89.7,515.8 L96.7,511.6 L100.4,505.4 L101.5,506.6 L106.6,497.5 L115,484.9 L122.1,469.4 L127.7,457.3 L131.9,454.8 L136.1,455.9 L146,452 L160.1,445.5 L167.1,444.9 L175.5,443.5 L178.4,439 L181.2,438.4 L184,442.7 L193.8,451.1 L205.1,460.4 L213.5,469.4 L219.2,478.4 L224.2,477.3 L230.4,486.3 L233.2,489.1 L238.9,493.3 L247.3,503.7 L252.9,502.6 L255.6,497.5 L258.4,499.8 L264.1,506.6 L269.7,503.7 L273.9,505.4 L278.1,504.9 L282.4,508.2 L286.6,507.4 L290.8,506 L296.4,503.7 L300.7,499.8 L304.9,505.4 L309.1,504.6 L317.5,499 L328.8,486.3 L340.6,468 L344.3,473.6 L348.5,475.6 L351.9,480.7 L355.5,477.8 L358.4,479.3 L364,472.2 L369.6,472.2 L373.8,480.7 L378.1,482.6 L387.9,498.1 L390.7,499.5 L399.2,501.8 L404.8,503.7 L409,500.4 L414.7,499 L418.9,500.9 L425.9,496.1 L435.8,486.3 L440.9,476.7 L443.1,478.2 L445.6,492.2 L451.8,496.9 L461.1,496.9 L463.6,497.8 L468.9,506.2 L472,507.2 L476.7,504.7 L484.5,500 L489.1,492.2 L491.3,476.7 L493.8,466.7 L495.3,476.7 L497.8,458.6 L500,467.3 L500.9,482.9 L503.1,463.6 L504.7,473.6 L509.3,486 L518.7,495.3 L532.7,499.1 L537.3,503.1 L545.1,503.7 L551.3,500.9 L554.5,496.3 L557.6,497.8 L560.7,506.2 L573.1,514 L579.3,511.5 L584.9,507.2 L588.7,512.5 L593.3,516.5 L599.6,517.1 L607.3,515.6 L612,520.2 L618.2,522.4 L624.5,523.3" fill="none" stroke="#000" stroke-width="1.8" stroke-linejoin="round"/>
<line x1="84.5" y1="437.9" x2="103" y2="437.9" stroke="#000" stroke-width="2.6"/>
<text x="104.5" y="442.5" font-family="'Liberation Serif', 'Times New Roman', serif" font-size="15" fill="#000">shoreline</text>
<text transform="translate(24.8,491.6) rotate(-90)" font-family="'Liberation Sans', Arial, sans-serif" font-size="14.2" text-anchor="middle" fill="#000" stroke="#000" stroke-width="0.2">Distance from reference line</text>
<text transform="translate(49.2,492.4) rotate(-90)" font-family="'Liberation Sans', Arial, sans-serif" font-size="14" text-anchor="middle" fill="#000" stroke="#000" stroke-width="0.2">(km)</text>
<text x="250.3" y="566" font-family="'Liberation Sans', Arial, sans-serif" font-size="14.2" fill="#000" stroke="#000" stroke-width="0.2" textLength="191" lengthAdjust="spacingAndGlyphs">Distance from Hainanjiao (km)</text>
<text x="633.8" y="32.4" font-family="'Liberation Sans', Arial, sans-serif" font-size="20.5" fill="#000" textLength="24.6" lengthAdjust="spacingAndGlyphs">(a)</text>
<defs><clipPath id="pc"><rect x="68.2" y="601.2" width="533.6" height="327.1"/></clipPath></defs>
<g clip-path="url(#pc)">
<circle cx="330" cy="892" r="237.5" fill="none" stroke="#6e6e6e" stroke-width="1.1"/>
</g>
<path d="M107.1,787.9 L110.7,786.1 L115.4,785.6 L117.8,786.1 L121.3,789.1 L124.3,791.5 L128.4,792.1 L129,789.7 L132,789.1 L133.8,786.7 L136.1,785 L135.6,782 L133.2,778.4 L132.6,776.7 L135,775.5 L135.6,771.3 L137.9,767.8 L139.1,763 L140.3,760.7 L142.7,764.2 L144.4,765.4 L146.2,761.9 L148,760.7 L147.4,765.4 L146.8,771.3 L146.2,774.9 L145,777.3 L141.5,776.7 L139.1,777.3 L137.9,778.4 L139.7,779.6 L142.7,778.4 L145.6,779 L145,782.6 L143.3,784.4 L140.9,785 L142.1,786.1 L144.4,786.7 L147.4,790.3 L149.8,795 L152.1,799.8 L153.9,802.1 L155.1,805.7 L155.7,809.3 L158.1,811.6 L160.4,808.1 L162.2,811.6 L163.4,816.4 L165.8,818.7 L168.1,819.3 L168.1,815.2 L170.5,814.6 L173.5,815.8 L176.4,817.6 L178.2,818.1 L179.7,819.6 L181.5,824.9 L183.9,831.4 L186.9,834.4 L189.8,835.6 L193.4,835.3 L196.3,832.6 L199.9,831.4 L203.4,831.4 L202.3,828.4 L205.8,827.9 L205.2,830.8 L208.2,832.6 L210.6,835 L214.1,835.6 L217.7,836.1 L219.4,837.9 L221.8,834.4 L224.8,836.1 L227.7,833.2 L228.9,832 L230.7,832 L230.1,835.6 L233.1,838.5 L231.9,839.7 L229.5,836.7 L227.1,838.5 L227.7,842.7 L227.1,847.4 L227.1,851 L230.1,852.7 L233.1,854.5 L235.4,857.5 L236.6,855.7 L239.6,855.1 L242.6,853.3 L244.9,852.1 L246.7,855.1 L248.3,855.4 L244.7,859 L244.7,864.9 L247.1,863.1 L248.3,860.1 L251.3,859.6 L253,861.3 L251.3,863.7 L254.2,866.1 L255.4,870.8 L257.8,873.8 L256,877.9 L257.2,880.9 L261.3,882.7 L267.3,886.2 L272,888.6 L277.9,891.6 L282.7,891 L287.4,891.6 L289.8,889.8 L288.6,887.4 L288.6,883.9 L291,886.2 L293.3,887.4 L295.7,886.2 L296.9,881.5 L294.5,877.9 L295.7,875.6 L298.1,877.3 L301.6,877.9 L304,880.3 L307.6,882.7 L310.4,883 L308.9,885.9 L308.1,889.6 L311.1,891.1 L314.1,892.6 L314.8,896.3 L316.3,900 L318.5,903 L320.7,905.9 L322.2,911.1 L324.4,913.3 L327.4,915.6 L331.1,917 L335.6,913.3 L339.3,915.6 L344.4,915.6 L348.9,914.8 L354.8,914.1 L360.7,912.6 L361.5,908.9 L360.7,905.9 L362.2,903 L365.2,903 L361.5,901.5 L360,899.3 L359.3,895.6 L357,897.8 L357,900 L353.3,900.7 L348.9,900 L344.4,899.3 L341.5,898.5 L339.3,896.3 L337.8,894.1 L340,893.3 L342.2,894.1 L344.4,891.9 L347.4,890.4 L348.1,886.7 L348.9,883 L350.4,886.7 L351.1,891.1 L353.3,893.3 L356.3,894.8 L359.3,895.6 L362.2,894.1 L368.1,892.9 L377,894.1 L383,896.3 L388.9,897.4 L396.3,900.4 L403,903.3 L409.6,901.9 L417,901.1 L419.3,899.6 L420.7,897.4 L420.7,894.4 L421.5,897.4 L423.7,900.4 L421.5,901.1 L424.4,901.6 L436.3,901.6 L442.2,904.8 L446.7,905.6 L454.1,903.6 L463,905.1 L468.9,909.3 L472.6,911 L476.3,909.3 L477.8,906.3 L478.9,900.4 L480.1,897.5 L481.3,901.6 L480.7,893.3 L482.4,895.7 L484.2,900.4 L486,904 L489,902.8 L493.7,899.3 L497.9,895.7 L497.3,893.9 L494.9,892.1 L493.7,888.6 L494.9,885 L498.4,882.1 L505.6,880.3 L511.5,880.9 L513.3,877.9 L515,874.4 L518.6,867.3 L522.1,860.1 L525.1,854.8 L529.3,850.7 L536.4,846.5 L540.7,844.3 L542.3,842.2 L540.2,838.1 L540.2,832.9 L541.8,827.7 L543.9,823.6 L547,819.4 L550.1,814.2 L553.2,809 L557.3,804.9 L563.6,801.8 L568.7,798.7 L569.8,795.3" fill="none" stroke="#873030" stroke-width="1.05" stroke-linejoin="round"/>
<path d="M153.9,688.7 L152.6,691.3 L151.7,694 L149.9,695.8 L147.2,694.9 L145.4,692.2 L142.8,690.9 L140.6,690 L138.3,690.9 L137.4,693.1 L134.8,693.6 L136.6,694.9 L140.1,694 L142.8,695.8 L146.3,698.4 L149,701.1 L151.7,702.4 L154.3,703.8 L156.1,705.6 L155.2,702 L154.8,696.7 L154.3,691.3" fill="none" stroke="#a84a4a" stroke-width="0.9" stroke-linejoin="round"/>
<path d="M285.6,621.9 L285.6,626.3 L283.3,630.8 L279.8,634.3 L278,635.7 L281.6,636.1 L283.8,638.3 L286.9,636.1 L289.6,634.3 L293.1,634.8 L294.9,632.6 L295.3,630.3 L293.6,628.6 L291.3,626.3 L290,623.7 L289.1,622.3" fill="none" stroke="#a84a4a" stroke-width="0.9" stroke-linejoin="round"/>
<path d="M395.4,622.8 L390.7,625.7 L393.6,626.3 L394.8,631.7 L397.2,628.7 L402.5,633.4 L403.1,631.1 L399.6,625.1 L397.8,622.8" fill="none" stroke="#a84a4a" stroke-width="0.9" stroke-linejoin="round"/>
<path d="M241,659 L239,662.5 L240.5,665.5 L243,663 L245.5,660.5" fill="none" stroke="#a84a4a" stroke-width="0.9" stroke-linejoin="round"/>
<path d="M312.7,618.3 L313.5,622.8 L315,620.5" fill="none" stroke="#a84a4a" stroke-width="0.9" stroke-linejoin="round"/>
<path d="M318,622.3 L320.5,625.4 L321.6,623" fill="none" stroke="#a84a4a" stroke-width="0.9" stroke-linejoin="round"/>
<path d="M457.4,641.4 L459,645.5 L462,646.2 L464.2,644 L461.5,642" fill="none" stroke="#a84a4a" stroke-width="0.9" stroke-linejoin="round"/>
<path d="M105.2,789.2 C105.4,788.2 105.8,785 106.6,783 C107.4,781 109.2,779.5 110.1,777.4 C111,775.3 111.7,772.6 111.8,770.4 C111.9,768.2 111.3,766.2 110.8,764.1 C110.3,762 109.8,759.9 109,757.9 C108.2,755.9 107.1,754 105.9,752.3 C104.7,750.5 103.3,748.9 101.7,747.4 C100.1,745.9 97.8,744.2 96.1,743.2 C94.4,742.2 92.6,741.7 91.3,741.1 C90,740.5 89,740.7 88.5,739.8 C88,738.9 87.8,737 88.1,735.6 C88.4,734.2 89.7,733.5 90.6,731.4 C91.5,729.3 92,726.8 93.3,723.1 C94.6,719.5 96.6,713.3 98.5,709.5 C100.4,705.7 102,703.8 104.5,700.5 C107,697.2 111.7,693.2 113.5,690 C115.3,686.8 115.1,683.3 115.5,681 C115.9,678.7 115.2,676.3 116,676.1 C116.8,675.9 118.9,678.8 120.4,679.8 C121.9,680.8 122.8,681.8 124.8,682.2 C126.8,682.6 129.7,682.3 132.2,682.3 C134.7,682.3 136.9,682.2 139.6,682 C142.3,681.8 146.2,681.4 148.5,681.2 C150.8,681 152.6,680.5 153.7,680.8 C154.8,681.1 154.6,681.7 155.2,682.8 C155.8,683.9 156.4,686.3 157.4,687.2 C158.4,688.1 159.9,688.5 161.1,688 C162.3,687.5 163.4,685.3 164.8,684.3 C166.2,683.3 167.6,682.6 169.3,682 C171,681.4 173.5,681.1 175.2,680.6 C176.9,680.1 178.1,679.2 179.6,679.1 C181.1,679 182.6,679.3 184.1,679.8 C185.6,680.3 187,681.4 188.5,682 C190,682.6 191.8,683.6 193,683.5 C194.2,683.4 194.9,683 196,681.6 C197.1,680.2 198.2,676.6 199.6,675.3 C201,674 202.8,673.8 204.3,673.9 C205.8,674 207.4,676 208.8,675.8 C210.2,675.6 211.2,673.8 212.9,672.7 C214.6,671.6 217,670.3 219.1,669.1 C221.2,667.9 223.5,666.1 225.3,665.6 C227.1,665.1 228.2,667 229.8,666.4 C231.4,665.8 233.2,663.6 235.1,662 C237,660.4 239.4,658.5 241.3,656.7 C243.2,654.9 245.2,652.6 246.7,651.3 C248.2,650 248.9,648.9 250.2,648.7 C251.5,648.6 253.2,650 254.7,650.4 C256.2,650.8 257.3,651.9 259.1,651.3 C260.9,650.7 263.4,648.7 265.3,646.9 C267.2,645.1 268.9,642.8 270.7,640.7 C272.5,638.6 274.4,637.2 276,634.4 C277.6,631.6 279.2,627.3 280.6,624.1 C282,620.9 283.4,616.5 284.5,615.4 C285.6,614.3 286,616.6 287.3,617.3 C288.6,617.9 290.6,618.4 292.2,619.3 C293.8,620.2 295.2,622.7 297,622.7 C298.8,622.7 300.9,620.3 302.8,619.3 C304.7,618.2 306.9,617.4 308.5,616.4 C310.1,615.4 311.1,614 312.4,613.5 C313.7,613 315.1,612.7 316.2,613.5 C317.3,614.3 317.8,617.2 319.1,618.3 C320.4,619.4 322.1,619.1 323.9,620.2 C325.7,621.3 327.8,623.3 329.7,625 C331.6,626.7 333.2,629.4 335.5,630.4 C337.8,631.4 340.9,630.3 343.2,630.8 C345.4,631.2 346.8,633 349,633.1 C351.2,633.2 354.1,631.7 356.7,631.2 C359.3,630.8 362.1,630.2 364.4,630.4 C366.6,630.6 367.9,632.8 370.2,632.4 C372.4,632 375.3,629.6 377.9,627.9 C380.5,626.2 383.6,623.9 385.9,622.2 C388.2,620.6 389.9,618.9 391.9,618 C393.9,617.1 396,616.5 397.8,616.6 C399.6,616.7 401,617.7 402.5,618.6 C404,619.5 405.7,620.7 406.7,622.2 C407.7,623.7 408.2,626 408.4,627.5 C408.6,629 407.4,629.8 407.9,631.1 C408.4,632.4 410.1,633.9 411.4,635.2 C412.7,636.5 414,638.1 415.6,638.8 C417.2,639.5 418.7,638.9 420.8,639.5 C422.9,640.1 426.7,641.1 428.5,642.4 C430.3,643.7 429.9,645.8 431.4,647.2 C432.8,648.7 435.8,650.8 437.2,651.1 C438.6,651.4 438.6,649.8 440,649 C441.4,648.2 443.9,647.1 445.9,646.1 C447.9,645.1 450.6,644.3 451.9,643.1 C453.2,641.9 453.2,640.3 453.6,639 C454,637.7 453.5,636.5 454.2,635.4 C454.9,634.3 456.5,633.2 457.8,632.4 C459.1,631.6 460.3,630.8 461.9,630.7 C463.5,630.6 466.2,631.2 467.3,631.9 C468.4,632.6 468.7,633.8 468.4,634.8 C468.1,635.8 465.9,636.8 465.5,637.8 C465.1,638.8 465.2,639.7 466.1,640.7 C467,641.7 469.2,642.9 470.8,643.7 C472.4,644.5 474.1,645.8 475.6,645.5 C477.1,645.2 478.6,643.2 479.7,641.9 C480.8,640.6 481.1,638 482.1,637.8 C483.1,637.6 484.3,639.8 485.6,640.7 C486.9,641.6 489.4,642.3 489.8,643.1 C490.2,643.9 488.8,644.6 488,645.5 C487.2,646.4 486.1,647.5 485,648.4 C483.9,649.3 482.7,649.9 481.5,650.8 C480.3,651.7 478.3,652.9 477.9,653.8 C477.5,654.7 478.1,655.8 479.1,656.1 C480.1,656.4 482.3,655.7 483.9,655.6 C485.5,655.5 487,655.4 488.6,655.6 C490.2,655.8 491.7,656.7 493.3,656.7 C494.9,656.7 497.2,655.2 498.1,655.6 C499,656 499.3,658.2 498.7,659.1 C498.1,660 496,660.4 494.5,660.9 C493,661.4 490.8,661.2 489.8,662.1 C488.8,663 488.6,664.7 488.6,666.2 C488.6,667.7 488.8,669.2 489.8,671 C490.8,672.8 492.5,674.9 494.5,676.9 C496.5,678.9 499.7,681.2 501.6,682.8 C503.5,684.4 504.8,685.2 505.8,686.4 C506.8,687.6 506.3,688.5 507.6,689.9 C508.9,691.3 511.7,693.3 513.5,694.7 C515.3,696.1 516.1,696.8 518.2,698.2 C520.3,699.6 524,701.4 526.2,702.9 C528.4,704.4 530.9,705.7 531.6,707.3 C532.4,708.9 531.3,711.1 530.7,712.7 C530.1,714.3 528,715.2 528,717.1 C528,719 529.2,722 530.7,724.2 C532.2,726.4 534.4,728.5 536.9,730.4 C539.4,732.3 544.2,733.7 545.8,735.8 C547.4,737.9 546,740.2 546.7,742.9 C547.4,745.6 548.6,749.1 550.2,751.8 C551.8,754.5 555.2,756.2 556.4,758.9 C557.6,761.6 556.4,764.8 557.3,767.8 C558.2,770.8 559.9,773.7 561.8,776.7 C563.7,779.7 567.4,782.9 568.9,785.6 C570.4,788.3 570.4,791.5 570.7,792.7" fill="none" stroke="#0a1228" stroke-width="5.2" stroke-linecap="round" stroke-linejoin="round"/>
<path d="M105.2,789.2 C105.4,788.2 105.8,785 106.6,783 C107.4,781 109.2,779.5 110.1,777.4 C111,775.3 111.7,772.6 111.8,770.4 C111.9,768.2 111.3,766.2 110.8,764.1 C110.3,762 109.8,759.9 109,757.9 C108.2,755.9 107.1,754 105.9,752.3 C104.7,750.5 103.3,748.9 101.7,747.4 C100.1,745.9 97.8,744.2 96.1,743.2 C94.4,742.2 92.6,741.7 91.3,741.1 C90,740.5 89,740.7 88.5,739.8 C88,738.9 87.8,737 88.1,735.6 C88.4,734.2 89.7,733.5 90.6,731.4 C91.5,729.3 92.8,724.5 93.3,723.1" fill="none" stroke="#070b15" stroke-width="6.2" stroke-linecap="round" stroke-linejoin="round"/>
<path d="M116,676.1 C116.7,676.7 118.9,678.8 120.4,679.8 C121.9,680.8 122.8,681.8 124.8,682.2 C126.8,682.6 129.7,682.3 132.2,682.3 C134.7,682.3 136.9,682.2 139.6,682 C142.3,681.8 146.2,681.4 148.5,681.2 C150.8,681 152.6,680.5 153.7,680.8 C154.8,681.1 154.6,681.7 155.2,682.8 C155.8,683.9 156.4,686.3 157.4,687.2 C158.4,688.1 159.9,688.5 161.1,688 C162.3,687.5 163.4,685.3 164.8,684.3 C166.2,683.3 167.6,682.6 169.3,682 C171,681.4 173.5,681.1 175.2,680.6 C176.9,680.1 178.1,679.2 179.6,679.1 C181.1,679 182.6,679.3 184.1,679.8 C185.6,680.3 187,681.4 188.5,682 C190,682.6 191.8,683.6 193,683.5 C194.2,683.4 195.5,681.9 196,681.6" fill="none" stroke="#070b15" stroke-width="6.2" stroke-linecap="round" stroke-linejoin="round"/>
<path d="M105.2,789.2 C105.4,788.2 105.8,785 106.6,783 C107.4,781 109.2,779.5 110.1,777.4 C111,775.3 111.7,772.6 111.8,770.4 C111.9,768.2 111.3,766.2 110.8,764.1 C110.3,762 109.8,759.9 109,757.9 C108.2,755.9 107.1,754 105.9,752.3 C104.7,750.5 103.3,748.9 101.7,747.4 C100.1,745.9 97.8,744.2 96.1,743.2 C94.4,742.2 92.6,741.7 91.3,741.1 C90,740.5 89,740.7 88.5,739.8 C88,738.9 87.8,737 88.1,735.6 C88.4,734.2 89.7,733.5 90.6,731.4 C91.5,729.3 92.8,724.5 93.3,723.1" fill="none" stroke="#0d1731" stroke-width="2.0" stroke-dasharray="1.5 2.5" stroke-linejoin="round"/>
<path d="M116,676.1 C116.7,676.7 118.9,678.8 120.4,679.8 C121.9,680.8 122.8,681.8 124.8,682.2 C126.8,682.6 129.7,682.3 132.2,682.3 C134.7,682.3 136.9,682.2 139.6,682 C142.3,681.8 146.2,681.4 148.5,681.2 C150.8,681 152.6,680.5 153.7,680.8 C154.8,681.1 154.6,681.7 155.2,682.8 C155.8,683.9 156.4,686.3 157.4,687.2 C158.4,688.1 159.9,688.5 161.1,688 C162.3,687.5 163.4,685.3 164.8,684.3 C166.2,683.3 167.6,682.6 169.3,682 C171,681.4 173.5,681.1 175.2,680.6 C176.9,680.1 178.1,679.2 179.6,679.1 C181.1,679 182.6,679.3 184.1,679.8 C185.6,680.3 187,681.4 188.5,682 C190,682.6 191.8,683.6 193,683.5 C194.2,683.4 195.5,681.9 196,681.6" fill="none" stroke="#0d1731" stroke-width="2.0" stroke-dasharray="1.5 2.5" stroke-linejoin="round"/>
<g fill="#1f4aa0" stroke="#0a1430" stroke-width="0.65"><circle cx="93.3" cy="723.1" r="1.75"/><circle cx="94" cy="720.8" r="1.75"/><circle cx="94.8" cy="718.3" r="1.75"/><circle cx="95.9" cy="716.1" r="1.75"/><circle cx="96.5" cy="713.6" r="1.75"/><circle cx="97.6" cy="711.4" r="1.75"/><circle cx="98.6" cy="709.2" r="1.75"/><circle cx="99.5" cy="707.1" r="1.75"/><circle cx="101" cy="705.2" r="1.75"/><circle cx="102.1" cy="703.2" r="1.75"/><circle cx="103.7" cy="701.4" r="1.75"/><circle cx="105.1" cy="699.3" r="1.75"/><circle cx="106.8" cy="697.5" r="1.75"/><circle cx="108.4" cy="696" r="1.75"/><circle cx="110.2" cy="694.6" r="1.75"/><circle cx="111.5" cy="692.4" r="1.75"/><circle cx="112.9" cy="690.7" r="1.75"/><circle cx="114.2" cy="688.8" r="1.75"/><circle cx="115" cy="686.6" r="1.75"/><circle cx="115.2" cy="684.2" r="1.75"/><circle cx="115.3" cy="681.9" r="1.75"/><circle cx="116" cy="679.7" r="1.75"/><circle cx="115.9" cy="677.4" r="1.75"/></g>
<g fill="#2759c2" stroke="#0a1430" stroke-width="0.65"><circle cx="196" cy="681.6" r="2.35"/><circle cx="196.8" cy="678.9" r="2.35"/><circle cx="198.9" cy="676.9" r="2.35"/><circle cx="200.2" cy="674.5" r="2.35"/><circle cx="202.8" cy="673.5" r="2.35"/><circle cx="205.6" cy="673.9" r="2.35"/><circle cx="207.7" cy="675.4" r="2.35"/><circle cx="210.3" cy="675.4" r="2.35"/><circle cx="212" cy="673" r="2.35"/><circle cx="214.5" cy="671.8" r="2.35"/><circle cx="216.9" cy="670.5" r="2.35"/><circle cx="219.2" cy="668.9" r="2.35"/><circle cx="221.5" cy="667.6" r="2.35"/><circle cx="223.7" cy="665.7" r="2.35"/><circle cx="226.4" cy="665.1" r="2.35"/><circle cx="228.9" cy="666.2" r="2.35"/><circle cx="231.4" cy="665.7" r="2.35"/><circle cx="233.2" cy="663.6" r="2.35"/><circle cx="235.1" cy="661.7" r="2.35"/><circle cx="237.5" cy="660.2" r="2.35"/><circle cx="239.4" cy="658.3" r="2.35"/><circle cx="241.3" cy="656.4" r="2.35"/><circle cx="243.6" cy="654.9" r="2.35"/><circle cx="245.4" cy="652.9" r="2.35"/><circle cx="246.9" cy="650.7" r="2.35"/><circle cx="249.1" cy="649.2" r="2.35"/><circle cx="251.6" cy="649" r="2.35"/><circle cx="253.9" cy="650.5" r="2.35"/><circle cx="256.4" cy="651.4" r="2.35"/><circle cx="259" cy="651.1" r="2.35"/><circle cx="261.8" cy="650.5" r="2.35"/><circle cx="263.3" cy="648.1" r="2.35"/><circle cx="265.5" cy="646.6" r="2.35"/><circle cx="267.6" cy="644.9" r="2.35"/><circle cx="268.8" cy="642.4" r="2.35"/><circle cx="270.8" cy="640.5" r="2.35"/><circle cx="272.4" cy="638.2" r="2.35"/><circle cx="274.6" cy="636.7" r="2.35"/><circle cx="276.2" cy="634.6" r="2.35"/><circle cx="277.3" cy="632.1" r="2.35"/><circle cx="278.7" cy="629.8" r="2.35"/><circle cx="279.1" cy="627.1" r="2.35"/><circle cx="280.6" cy="624.7" r="2.35"/><circle cx="281.5" cy="622.1" r="2.35"/><circle cx="282.5" cy="619.5" r="2.35"/><circle cx="283.5" cy="617" r="2.35"/><circle cx="285.2" cy="615.5" r="2.35"/><circle cx="286.7" cy="617.5" r="2.35"/><circle cx="289.4" cy="618.1" r="2.35"/><circle cx="291.7" cy="619.3" r="2.35"/><circle cx="294.3" cy="620.4" r="2.35"/><circle cx="295.9" cy="622.6" r="2.35"/><circle cx="298.6" cy="622.4" r="2.35"/><circle cx="301" cy="621.2" r="2.35"/><circle cx="303.1" cy="619.5" r="2.35"/><circle cx="305.2" cy="617.8" r="2.35"/><circle cx="307.7" cy="616.7" r="2.35"/><circle cx="310" cy="615.5" r="2.35"/><circle cx="311.7" cy="613.3" r="2.35"/><circle cx="314.5" cy="613" r="2.35"/><circle cx="317" cy="613.8" r="2.35"/><circle cx="318.3" cy="616.3" r="2.35"/><circle cx="319.8" cy="618.2" r="2.35"/><circle cx="322" cy="619.7" r="2.35"/><circle cx="324.7" cy="620.2" r="2.35"/><circle cx="326.8" cy="622" r="2.35"/><circle cx="328.8" cy="624" r="2.35"/><circle cx="330.4" cy="626.3" r="2.35"/><circle cx="332.8" cy="627.7" r="2.35"/><circle cx="334.6" cy="629.8" r="2.35"/><circle cx="336.9" cy="630.8" r="2.35"/><circle cx="339.6" cy="631.2" r="2.35"/><circle cx="342.3" cy="631" r="2.35"/><circle cx="344.7" cy="631.8" r="2.35"/><circle cx="347.3" cy="632.4" r="2.35"/><circle cx="349.9" cy="633" r="2.35"/><circle cx="352.5" cy="632.3" r="2.35"/><circle cx="355.2" cy="632" r="2.35"/><circle cx="357.8" cy="631.5" r="2.35"/><circle cx="360.2" cy="630.2" r="2.35"/><circle cx="363" cy="630" r="2.35"/><circle cx="365.7" cy="630.4" r="2.35"/><circle cx="368.1" cy="631.7" r="2.35"/><circle cx="370.5" cy="632.3" r="2.35"/><circle cx="373" cy="631.3" r="2.35"/><circle cx="375.2" cy="629.5" r="2.35"/><circle cx="377.2" cy="627.7" r="2.35"/><circle cx="379.7" cy="626.6" r="2.35"/><circle cx="381.9" cy="624.9" r="2.35"/><circle cx="384.3" cy="623.5" r="2.35"/><circle cx="386.7" cy="622.2" r="2.35"/><circle cx="388.7" cy="620.3" r="2.35"/><circle cx="390.7" cy="618.7" r="2.35"/><circle cx="393.2" cy="617.6" r="2.35"/><circle cx="395.7" cy="616.9" r="2.35"/><circle cx="398.4" cy="616.2" r="2.35"/><circle cx="400.6" cy="618" r="2.35"/><circle cx="402.9" cy="619.2" r="2.35"/><circle cx="404.9" cy="620.9" r="2.35"/><circle cx="406.6" cy="622.7" r="2.35"/><circle cx="408" cy="625" r="2.35"/><circle cx="408.5" cy="627.6" r="2.35"/><circle cx="408.2" cy="630.1" r="2.35"/><circle cx="408.7" cy="632.6" r="2.35"/><circle cx="410.9" cy="634.1" r="2.35"/><circle cx="412.8" cy="636" r="2.35"/><circle cx="414.6" cy="637.8" r="2.35"/><circle cx="417" cy="638.8" r="2.35"/><circle cx="419.6" cy="639.1" r="2.35"/><circle cx="422.4" cy="639.4" r="2.35"/><circle cx="425" cy="640.2" r="2.35"/><circle cx="427.4" cy="641.3" r="2.35"/><circle cx="429.7" cy="643" r="2.35"/><circle cx="430.5" cy="645.6" r="2.35"/><circle cx="432.4" cy="647.4" r="2.35"/><circle cx="433.9" cy="649.8" r="2.35"/><circle cx="436.4" cy="651" r="2.35"/><circle cx="438.6" cy="649.9" r="2.35"/><circle cx="440.6" cy="648.4" r="2.35"/><circle cx="443" cy="647.3" r="2.35"/><circle cx="445.4" cy="646.2" r="2.35"/><circle cx="447.7" cy="644.9" r="2.35"/><circle cx="450.5" cy="644.5" r="2.35"/><circle cx="452.8" cy="642.9" r="2.35"/><circle cx="453.3" cy="640.1" r="2.35"/><circle cx="453.8" cy="637.5" r="2.35"/><circle cx="454.1" cy="634.7" r="2.35"/><circle cx="456.2" cy="632.9" r="2.35"/><circle cx="458.7" cy="631.7" r="2.35"/><circle cx="461.2" cy="630.5" r="2.35"/><circle cx="463.8" cy="631.2" r="2.35"/><circle cx="466.6" cy="631.2" r="2.35"/><circle cx="468.9" cy="633.1" r="2.35"/><circle cx="467.4" cy="635.4" r="2.35"/><circle cx="465.8" cy="637.3" r="2.35"/><circle cx="465.9" cy="639.7" r="2.35"/><circle cx="467.3" cy="641.7" r="2.35"/><circle cx="469.9" cy="642.7" r="2.35"/><circle cx="472" cy="644.4" r="2.35"/><circle cx="474.4" cy="646" r="2.35"/><circle cx="477.1" cy="645.2" r="2.35"/><circle cx="479" cy="643.1" r="2.35"/><circle cx="480.2" cy="640.6" r="2.35"/><circle cx="481.4" cy="638.2" r="2.35"/><circle cx="483.7" cy="638.3" r="2.35"/><circle cx="485.2" cy="640.8" r="2.35"/><circle cx="487.8" cy="641.8" r="2.35"/><circle cx="489.6" cy="643.3" r="2.35"/><circle cx="488.4" cy="645.4" r="2.35"/><circle cx="486.6" cy="647.4" r="2.35"/><circle cx="484.1" cy="648.6" r="2.35"/><circle cx="481.8" cy="649.9" r="2.35"/><circle cx="479.7" cy="651.6" r="2.35"/><circle cx="477.7" cy="653.6" r="2.35"/><circle cx="478.5" cy="656.2" r="2.35"/><circle cx="481.3" cy="656.3" r="2.35"/><circle cx="483.9" cy="655.3" r="2.35"/><circle cx="486.6" cy="655.5" r="2.35"/><circle cx="489.3" cy="655.6" r="2.35"/><circle cx="492" cy="656" r="2.35"/><circle cx="494.4" cy="656" r="2.35"/><circle cx="497" cy="655.4" r="2.35"/><circle cx="499.1" cy="656.8" r="2.35"/><circle cx="498.3" cy="659.2" r="2.35"/><circle cx="495.9" cy="659.9" r="2.35"/><circle cx="493.5" cy="661.2" r="2.35"/><circle cx="490.8" cy="661.1" r="2.35"/><circle cx="488.6" cy="662.9" r="2.35"/><circle cx="488.1" cy="665.7" r="2.35"/><circle cx="489.1" cy="668.4" r="2.35"/><circle cx="489.8" cy="670.9" r="2.35"/></g>
<g fill="#183570" stroke="#0a1430" stroke-width="0.65"><circle cx="489.8" cy="671" r="1.9"/><circle cx="491.4" cy="672.8" r="1.9"/><circle cx="492.8" cy="674.7" r="1.9"/><circle cx="494.4" cy="676.5" r="1.9"/><circle cx="496.1" cy="678.1" r="1.9"/><circle cx="497.8" cy="679.9" r="1.9"/><circle cx="499.6" cy="681.6" r="1.9"/><circle cx="501.5" cy="683" r="1.9"/><circle cx="503.5" cy="684.3" r="1.9"/><circle cx="505.2" cy="686" r="1.9"/><circle cx="506.3" cy="687.9" r="1.9"/><circle cx="507.8" cy="689.7" r="1.9"/><circle cx="509.3" cy="691.6" r="1.9"/><circle cx="511.2" cy="693.3" r="1.9"/><circle cx="513.1" cy="694.6" r="1.9"/><circle cx="515" cy="696.1" r="1.9"/><circle cx="517" cy="697.3" r="1.9"/><circle cx="519" cy="698.4" r="1.9"/><circle cx="521" cy="700.1" r="1.9"/><circle cx="523.3" cy="701" r="1.9"/><circle cx="525.2" cy="702.5" r="1.9"/><circle cx="527.2" cy="704" r="1.9"/><circle cx="529.4" cy="704.9" r="1.9"/><circle cx="531.1" cy="706.4" r="1.9"/><circle cx="531.5" cy="708.6" r="1.9"/><circle cx="531.2" cy="710.9" r="1.9"/><circle cx="530.7" cy="713.3" r="1.9"/><circle cx="529.2" cy="715.1" r="1.9"/><circle cx="528.2" cy="717.1" r="1.9"/><circle cx="528.1" cy="719.5" r="1.9"/><circle cx="529.1" cy="721.8" r="1.9"/><circle cx="530.7" cy="723.7" r="1.9"/><circle cx="531.8" cy="726" r="1.9"/><circle cx="533.3" cy="727.8" r="1.9"/><circle cx="535.4" cy="729.3" r="1.9"/><circle cx="537.4" cy="730.6" r="1.9"/><circle cx="539.4" cy="731.9" r="1.9"/><circle cx="541.8" cy="732.8" r="1.9"/><circle cx="544" cy="733.9" r="1.9"/><circle cx="545.4" cy="735.8" r="1.9"/><circle cx="546.5" cy="737.8" r="1.9"/><circle cx="546.5" cy="740.2" r="1.9"/><circle cx="546.3" cy="742.8" r="1.9"/><circle cx="547.4" cy="745" r="1.9"/><circle cx="547.9" cy="747.4" r="1.9"/><circle cx="548.9" cy="749.8" r="1.9"/><circle cx="550.4" cy="751.7" r="1.9"/><circle cx="551.8" cy="753.5" r="1.9"/><circle cx="553.6" cy="755.2" r="1.9"/><circle cx="555.3" cy="756.9" r="1.9"/><circle cx="556.4" cy="759.1" r="1.9"/><circle cx="557.1" cy="761.4" r="1.9"/><circle cx="557" cy="763.9" r="1.9"/><circle cx="557.3" cy="766.4" r="1.9"/><circle cx="557.3" cy="768.8" r="1.9"/><circle cx="558.6" cy="770.9" r="1.9"/><circle cx="559.7" cy="773.1" r="1.9"/><circle cx="560.8" cy="775.2" r="1.9"/><circle cx="561.9" cy="777.3" r="1.9"/><circle cx="563.6" cy="778.9" r="1.9"/><circle cx="564.9" cy="781" r="1.9"/><circle cx="566.7" cy="782.6" r="1.9"/><circle cx="568.2" cy="784.6" r="1.9"/><circle cx="569.4" cy="786.6" r="1.9"/><circle cx="570.4" cy="788.8" r="1.9"/><circle cx="570.5" cy="791.3" r="1.9"/></g>
<circle cx="569.8" cy="795.3" r="2.6" fill="#2a66d6" stroke="#0b1733" stroke-width="0.8"/>
<line x1="252.7" y1="670.3" x2="229" y2="716" stroke="#000" stroke-width="1.8"/>
<path d="M221.6,731.1 L226.6,710.7 L229,716 L235.2,715.1 Z" fill="#000" stroke="#000" stroke-width="0.6" stroke-linejoin="round"/>
<text x="165" y="743.8" font-family="'Liberation Sans', Arial, sans-serif" font-weight="bold" font-size="16.6" fill="#000" textLength="111.6" lengthAdjust="spacingAndGlyphs">reference line</text>
<path d="M170.4,613 L187,626.7 L167.4,650.4 L175.1,657.5 L139,666.4 L141.9,629.6 L150.8,636.7 Z" fill="#fff" stroke="#000" stroke-width="3" stroke-linejoin="round"/>
<text x="153.8" y="654.2" font-family="'Liberation Sans', Arial, sans-serif" font-weight="bold" font-size="17" fill="#000" text-anchor="middle">N</text>
<rect x="289.8" y="721.1" width="201" height="52.8" fill="#fff" stroke="#262626" stroke-width="1.4"/>
<circle cx="313.6" cy="735.1" r="2.3" fill="#2a5fc8" stroke="#0b1733" stroke-width="0.7"/>
<text x="332.3" y="736.8" font-family="'Liberation Sans', Arial, sans-serif" font-weight="bold" font-size="16" fill="#000" textLength="154" lengthAdjust="spacingAndGlyphs">points on shoreline</text>
<line x1="297.9" y1="764" x2="330.6" y2="764" stroke="#873030" stroke-width="1.1"/>
<text x="353.5" y="769.8" font-family="'Liberation Sans', Arial, sans-serif" font-weight="bold" font-size="16" fill="#000" textLength="74.2" lengthAdjust="spacingAndGlyphs">shoreline</text>
<line x1="330" y1="892" x2="535.8" y2="774.5" stroke="#1a1a1a" stroke-width="1.3"/>
<text x="443.9" y="842" font-family="'Liberation Sans', Arial, sans-serif" font-weight="bold" font-size="17" fill="#404040">R</text>
<line x1="330" y1="892" x2="350.6" y2="838.7" stroke="#000" stroke-width="2"/>
<path d="M357.6,822.9 L354.2,843.9 L350.6,838.7 L345.1,840.3 Z" fill="#000" stroke="#000" stroke-width="0.6" stroke-linejoin="round"/>
<text x="294.5" y="819" font-family="'Liberation Sans', Arial, sans-serif" font-weight="bold" font-size="17" fill="#000" textLength="125.3" lengthAdjust="spacingAndGlyphs">reference point</text>
<text x="319.3" y="889" font-family="'Liberation Sans', Arial, sans-serif" font-weight="bold" font-size="17" fill="#404040" text-anchor="middle">O</text>
<circle cx="329.9" cy="892.1" r="3.7" fill="#3de01a" stroke="#1a3a10" stroke-width="0.8"/>
<text x="572.4" y="919" font-family="'Liberation Sans', Arial, sans-serif" font-size="20.5" fill="#000" textLength="26.8" lengthAdjust="spacingAndGlyphs">(b)</text>
<rect x="8" y="646.5" width="80" height="19" fill="#fff"/>
<text x="10.6" y="662" font-family="'Liberation Sans', Arial, sans-serif" font-size="15.5" fill="#000" textLength="72.6" lengthAdjust="spacingAndGlyphs">Hainanjiao</text>
<rect x="589" y="650.5" width="73" height="20.5" fill="#fff"/>
<text x="592.2" y="667.3" font-family="'Liberation Sans', Arial, sans-serif" font-size="15.7" fill="#000" textLength="67.2" lengthAdjust="spacingAndGlyphs">Yinggezui</text>
</svg>
</body></html>
